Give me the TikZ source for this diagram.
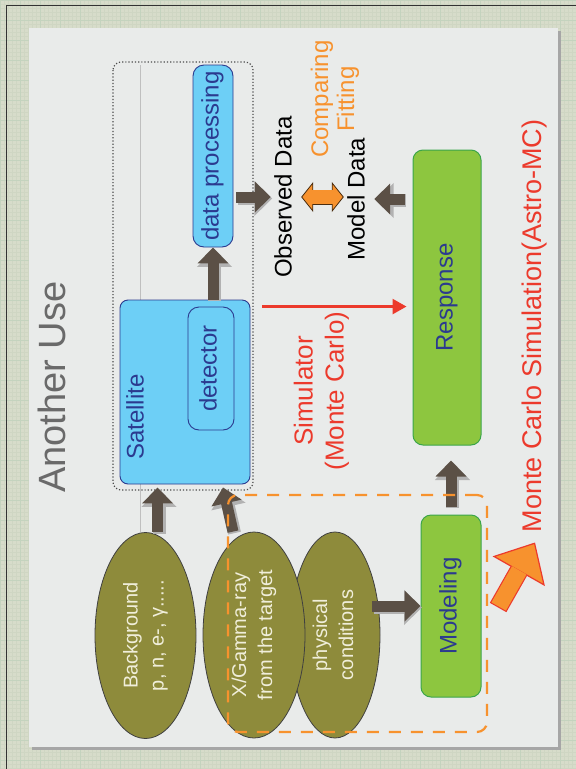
\documentclass[tikz,border=0pt]{standalone}
\usepackage{fontspec}
\usepackage{graphicx}
\setmainfont{Liberation Sans}
\usetikzlibrary{arrows.meta,positioning,shapes.geometric}

\definecolor{gridbg}{HTML}{D7DCCA}
\definecolor{gridln}{HTML}{CFD6C3}
\definecolor{gridmaj}{HTML}{C4D3BE}
\definecolor{slidebg}{HTML}{E9EBEA}
\definecolor{titlegray}{HTML}{6A6A6A}
\definecolor{boxblue}{HTML}{6DCFF6}
\definecolor{edgeblue}{HTML}{2B3A8F}
\definecolor{boxgreen}{HTML}{8DC63F}
\definecolor{edgegreen}{HTML}{3BA54A}
\definecolor{ellfill}{HTML}{8E8B3B}
\definecolor{elltext}{HTML}{F0EEDA}
\definecolor{arrbrown}{HTML}{5B5046}
\definecolor{mcorange}{HTML}{F7922E}
\definecolor{mcred}{HTML}{EC3A2C}

\newcommand\fsz[2]{\fontsize{#1}{#2}\selectfont}
\newcommand\uptext[1]{\rotatebox{90}{\begin{tabular}{@{}c@{}}#1\end{tabular}}}

\begin{document}
\begin{tikzpicture}[
  x=1pt, y=-1pt,
  box/.style={draw=edgeblue, fill=boxblue, rounded corners=8pt, line width=0.9pt,
              inner sep=0pt, text=edgeblue, font=\fsz{24}{28}},
  gbox/.style={draw=edgegreen, fill=boxgreen, rounded corners=10pt, line width=1pt,
               inner sep=0pt, text=edgeblue, font=\fsz{24}{28}},
  ell/.style={ellipse, draw=black!75, fill=ellfill, line width=0.8pt, inner sep=0pt,
              text=elltext, font=\fsz{20}{26}},
  lbl/.style={inner sep=1pt, font=\fsz{24}{28}},
  blk/.style={arrbrown, line width=11pt, -{Triangle[length=16pt,width=30pt]},
              preaction={draw=black!30, line width=13pt, -{Triangle[length=18pt,width=34pt]},
                         transform canvas={shift={(1.5pt,-1.5pt)}}}},
  cmp/.style={draw=black!70!mcorange, line width=15pt,
              {Triangle[length=12pt,width=30pt,line width=0.8pt,fill=mcorange]}-{Triangle[length=12pt,width=30pt,line width=0.8pt,fill=mcorange]}},
  mcarr/.style={draw=mcred, line width=19pt,
                -{Triangle[length=33pt,width=60pt,line width=1.2pt,fill=mcorange]}},
]
\useasboundingbox (0,0) rectangle (576,769);
\fill[gridbg] (0,0) rectangle (576,769);
\draw[gridln, line width=0.2pt, step=4pt] (0,0) grid (576,769);
\draw[gridmaj, line width=0.4pt, step=20pt] (0,0) grid (576,769);
\draw[black!80, line width=1pt] (6,5) rectangle (580,775);
\fill[black!35] (32,31) rectangle (561,750);
\fill[slidebg] (29,28) rectangle (558,747);
\draw[black!25, line width=0.6pt] (140,65) -- (140,532);

\node[font=\fsz{38}{44}, text=titlegray] (title) at (57,387) {\uptext{Another Use}};

\draw[black!70, dotted, line width=1.2pt, rounded corners=8pt] (113,62) rectangle (253,490);
\node[box, minimum width=130pt, minimum height=184pt] (sat) at (185,392) {};
\node[lbl, text=edgeblue] (satlbl) at (138,417) {\uptext{Satellite}};
\node[box, minimum width=46pt, minimum height=123pt, rounded corners=11pt] (det) at (211,368.5) {\uptext{detector}};
\node[box, minimum width=40pt, minimum height=182pt, rounded corners=11pt] (dp) at (213,156) {\uptext{data processing}};

\node[gbox, minimum width=68pt, minimum height=295pt] (resp) at (447,297.5) {\uptext{Response}};
\node[gbox, minimum width=60pt, minimum height=182pt] (mod) at (451,606) {\uptext{Modeling}};

\node[ell, minimum width=90pt, minimum height=206pt] (phys) at (335,635) {\uptext{physical\\conditions}};
\node[ell, minimum width=101pt, minimum height=206pt] (bg) at (145.5,635.5) {\uptext{Background\\p, n, e-, γ.....}};
\node[ell, minimum width=102pt, minimum height=206pt] (xg) at (254,635) {\uptext{X/Gamma-ray\\from the target}};

\node[lbl] (obs) at (286,197) {\uptext{Observed Data}};
\node[lbl] (mdl) at (359,199) {\uptext{Model Data}};
\node[lbl, text=mcorange, font=\fsz{24}{26}] (cmpl) at (336,99) {\uptext{Comparing\\Fitting}};
\node[lbl, text=mcred, font=\fsz{26}{31}] (sim) at (322,391) {\uptext{Simulator\\(Monte Carlo)}};
\node[lbl, text=mcred, font=\fsz{27}{32}] (mc) at (535,326) {\uptext{Monte Carlo Simulation(Astro-MC)}};

\draw[blk] ([xshift=12pt]bg.north) -- ([xshift=12pt,yshift=-3pt]bg.north |- sat.south);
\draw[blk] ([xshift=-21pt]xg.north) -- ([xshift=38pt,yshift=-3pt]sat.south);
\draw[blk] (dp.south |- sat.north) -- (dp.south);
\draw[blk] ([xshift=3pt]dp.east |- obs.west) -- (obs.west);
\draw[blk] ([xshift=-8pt]resp.west |- mdl.east) -- (mdl.east);
\draw[blk] ([xshift=-8pt]phys.east |- mod.west) -- (mod.west);
\draw[blk] ([yshift=8pt]mod.north) -- ([yshift=-15pt]mod.north |- resp.south);

\draw[cmp] (obs.east) -- (obs.east -| mdl.west);
\draw[mcorange, line width=13.4pt, shorten <=11pt, shorten >=11pt] (obs.east) -- (obs.east -| mdl.west);

\draw[mcred, line width=2.6pt, -{Triangle[length=14pt,width=15pt]}]
  ([shift={(12pt,-7pt)}]sat.north east) -- ([shift={(-6pt,-7pt)}]sat.north east -| resp.west);

\node[draw=mcorange, dash pattern=on 12pt off 10pt, line width=2.2pt, rounded corners=10pt,
      minimum width=259pt, minimum height=237pt] (mcbox) at (357.5,613.5) {};

\draw[mcarr] ([shift={(10pt,6pt)}]mcbox.east) -- ([yshift=-9pt]mc.south);
\draw[mcorange, line width=16.6pt, shorten >=32pt, shorten <=1.2pt] ([shift={(10pt,6pt)}]mcbox.east) -- ([yshift=-9pt]mc.south);
\end{tikzpicture}
\end{document}
